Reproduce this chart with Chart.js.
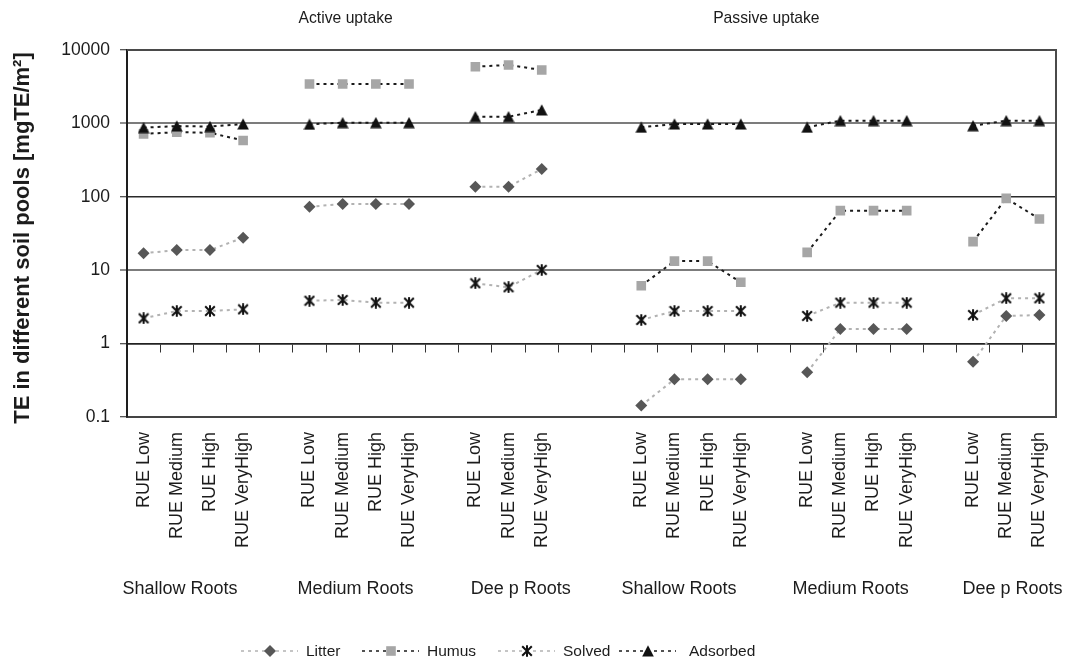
<!DOCTYPE html>
<html>
<head>
<meta charset="utf-8">
<title>TE in soil pools</title>
<script src="https://cdn.jsdelivr.net/npm/chart.js@4.4.1/dist/chart.umd.min.js"></script>
<style>
  html, body { margin: 0; padding: 0; background: #ffffff; }
  #wrap { width: 1070px; height: 664px; }
</style>
</head>
<body>
<div id="wrap"><canvas id="chart" width="1070" height="664"></canvas></div>
<script>
// Scenario categories: blanks separate the root-depth groups
const categories = [
  'RUE Low', 'RUE Medium', 'RUE High', 'RUE VeryHigh', '',
  'RUE Low', 'RUE Medium', 'RUE High', 'RUE VeryHigh', '',
  'RUE Low', 'RUE Medium', 'RUE VeryHigh', '', '',
  'RUE Low', 'RUE Medium', 'RUE High', 'RUE VeryHigh', '',
  'RUE Low', 'RUE Medium', 'RUE High', 'RUE VeryHigh', '',
  'RUE Low', 'RUE Medium', 'RUE VeryHigh'
];

// TE per soil pool [mgTE/m2]
const litter = [
  17.0, 18.8, 18.8, 27.7, null,
  73, 80, 80, 80, null,
  137, 137, 239, null, null,
  0.143, 0.326, 0.326, 0.326, null,
  0.406, 1.58, 1.58, 1.58, null,
  0.567, 2.38, 2.45
];
const humus = [
  720, 760, 745, 585, null,
  3440, 3440, 3440, 3440, null,
  5925, 6250, 5340, null, null,
  6.15, 13.3, 13.3, 6.84, null,
  17.5, 64.7, 64.7, 64.7, null,
  24.5, 95.3, 49.9
];
const solved = [
  2.21, 2.78, 2.78, 2.93, null,
  3.84, 3.93, 3.61, 3.61, null,
  6.63, 5.85, 10.1, null, null,
  2.10, 2.78, 2.78, 2.78, null,
  2.38, 3.61, 3.61, 3.61, null,
  2.45, 4.14, 4.14
];
const adsorbed = [
  875, 920, 905, 980, null,
  973, 1023, 1023, 1023, null,
  1233, 1233, 1523, null, null,
  885, 980, 980, 980, null,
  885, 1089, 1089, 1089, null,
  930, 1089, 1089
];

const yTickValues = [0.1, 1, 10, 100, 1000, 10000];
const uptakeLabels = ['Active uptake', 'Passive uptake'];
const rootLabels = ['Shallow Roots', 'Medium Roots', 'Dee p Roots', 'Shallow Roots', 'Medium Roots', 'Dee p Roots'];

const FONT = '"Liberation Sans", Arial, Helvetica, sans-serif';
const TEXT = '#1c1c1c';
Chart.defaults.font.family = FONT;
Chart.defaults.color = TEXT;

// Marker images for triangle and asterisk symbols
function makeMarker(w, h, paint) {
  const c = document.createElement('canvas');
  c.width = w; c.height = h;
  paint(c.getContext('2d'), w, h);
  return c;
}
const triangleMark = makeMarker(12, 12, (g, w, h) => {
  g.fillStyle = '#111111';
  g.beginPath();
  g.moveTo(w / 2, 0.3);
  g.lineTo(w - 0.2, h - 0.5);
  g.lineTo(0.2, h - 0.5);
  g.closePath();
  g.fill();
});
const asteriskMark = makeMarker(12, 12, (g, w, h) => {
  g.strokeStyle = '#111111';
  g.lineWidth = 2;
  g.lineCap = 'butt';
  g.beginPath();
  g.moveTo(1.2, 1.2); g.lineTo(10.8, 10.8);
  g.moveTo(10.8, 1.2); g.lineTo(1.2, 10.8);
  g.moveTo(6, 0.3); g.lineTo(6, 11.7);
  g.stroke();
});

const lightLine = '#b2b2b2';
const darkLine = '#1a1a1a';
const dash = [3, 4];

// later series are painted over earlier ones (lower order = on top)
const datasets = [
  { label: 'Litter', data: litter, order: 4, borderColor: lightLine, borderDash: dash, borderWidth: 2,
    pointStyle: 'rectRot', pointRadius: 6, pointBackgroundColor: '#575757', pointBorderWidth: 0 },
  { label: 'Humus', data: humus, order: 3, borderColor: darkLine, borderDash: dash, borderWidth: 2,
    pointStyle: 'rect', pointRadius: 6.8, pointBackgroundColor: '#a6a6a6', pointBorderWidth: 0 },
  { label: 'Solved', data: solved, order: 2, borderColor: lightLine, borderDash: dash, borderWidth: 2,
    pointStyle: asteriskMark, pointRadius: 6, pointBackgroundColor: '#111111', pointBorderWidth: 0 },
  { label: 'Adsorbed', data: adsorbed, order: 1, borderColor: darkLine, borderDash: dash, borderWidth: 2,
    pointStyle: triangleMark, pointRadius: 6, pointBackgroundColor: '#111111', pointBorderWidth: 0 }
].map(d => Object.assign({ fill: false, tension: 0, spanGaps: false }, d));

// Frame, headings, group captions, axis title and legend
const decorations = {
  id: 'decorations',
  afterDraw(chart, args, opts) {
    const { ctx, chartArea: a } = chart;
    const xs = chart.scales.x;
    ctx.save();

    // plot frame (top and right edges)
    ctx.strokeStyle = '#4a4a4a';
    ctx.lineWidth = 2;
    ctx.beginPath();
    ctx.moveTo(a.left, a.top);
    ctx.lineTo(a.right, a.top);
    ctx.lineTo(a.right, a.bottom);
    ctx.stroke();

    ctx.fillStyle = TEXT;
    ctx.textBaseline = 'middle';
    ctx.textAlign = 'center';

    // uptake headings
    ctx.font = '15.7px ' + FONT;
    uptakeLabels.forEach((t, i) => ctx.fillText(t, xs.getPixelForValue(opts.uptakeAt[i]), opts.uptakeY));

    // root-depth captions
    ctx.font = '18px ' + FONT;
    rootLabels.forEach((t, i) => ctx.fillText(t, xs.getPixelForValue(opts.rootAt[i]), opts.rootY));

    // y axis title
    ctx.save();
    ctx.translate(opts.titleX, opts.titleY);
    ctx.rotate(-Math.PI / 2);
    ctx.font = 'bold 22px ' + FONT;
    ctx.fillText('TE in different soil pools [mgTE/m\u00B2]', 0, 0);
    ctx.restore();

    // legend: dashed sample with marker, then the series name
    ctx.font = '15.5px ' + FONT;
    ctx.textAlign = 'left';
    chart.data.datasets.forEach((ds, i) => {
      const mx = opts.legendMarkerX[i];
      const y = opts.legendY;
      ctx.save();
      ctx.strokeStyle = ds.borderColor;
      ctx.lineWidth = 1.6;
      ctx.setLineDash(ds.borderDash);
      ctx.beginPath();
      ctx.moveTo(mx - 29, y);
      ctx.lineTo(mx + 28, y);
      ctx.stroke();
      ctx.restore();
      ctx.fillStyle = ds.pointBackgroundColor;
      Chart.helpers.drawPoint(ctx, { pointStyle: ds.pointStyle, radius: ds.pointRadius, rotation: 0, borderWidth: 0 }, mx, y);
      ctx.fillStyle = TEXT;
      ctx.fillText(ds.label, opts.legendTextX[i], y + 1);
    });

    ctx.restore();
  }
};

const gridColor = c => {
  const v = c.tick ? c.tick.value : 0;
  return (v === 10 || v === 1000) ? '#7c7c7c' : '#2a2a2a';
};
const gridWidth = c => {
  const v = c.tick ? c.tick.value : 0;
  return (v === 10 || v === 1000) ? 2 : 1.4;
};
const noSidePadding = s => { s.paddingLeft = 0; s.paddingRight = 0; };

new Chart(document.getElementById('chart'), {
  type: 'line',
  data: { labels: categories, datasets },
  plugins: [decorations],
  options: {
    responsive: false,
    animation: false,
    events: [],
    layout: { padding: { top: 50, right: 14, bottom: 0, left: 0 } },
    plugins: {
      legend: { display: false },
      tooltip: { enabled: false },
      decorations: {
        uptakeAt: [6.09, 18.77],
        uptakeY: 18.5,
        rootAt: [1.10, 6.39, 11.37, 16.14, 21.31, 26.19],
        rootY: 589,
        titleX: 23,
        titleY: 238,
        legendY: 651,
        legendMarkerX: [270, 391, 527, 648],
        legendTextX: [306, 427, 563, 689]
      }
    },
    scales: {
      x: {
        type: 'category',
        position: 'bottom',
        offset: true,
        grid: { display: false, drawTicks: false },
        border: { display: true, color: '#444444', width: 2 },
        ticks: {
          autoSkip: false, minRotation: 90, maxRotation: 90, padding: 15,
          font: { size: 18 }, color: TEXT
        },
        afterFit: s => { s.height = 247; noSidePadding(s); }
      },
      xTicks: {
        axis: 'x',
        type: 'category',
        position: { y: 1 },
        offset: true,
        grid: { display: true, drawOnChartArea: false, offset: true, drawTicks: true, tickLength: 8,
                color: '#333333', lineWidth: 1 },
        border: { display: true, color: '#222222', width: 1.5 },
        ticks: { display: false },
        afterFit: noSidePadding
      },
      y: {
        type: 'logarithmic',
        min: 0.1,
        max: 10000,
        afterBuildTicks: s => { s.ticks = yTickValues.map(v => ({ value: v })); },
        ticks: {
          callback: v => String(v),
          padding: 10,
          font: { size: 17.5 },
          color: TEXT
        },
        grid: { color: gridColor, lineWidth: gridWidth, tickLength: 7, tickColor: '#444444', tickWidth: 1.2 },
        border: { display: true, color: '#1e1e1e', width: 2 },
        afterFit: s => { s.width = 127; }
      }
    }
  }
});
</script>
</body>
</html>
